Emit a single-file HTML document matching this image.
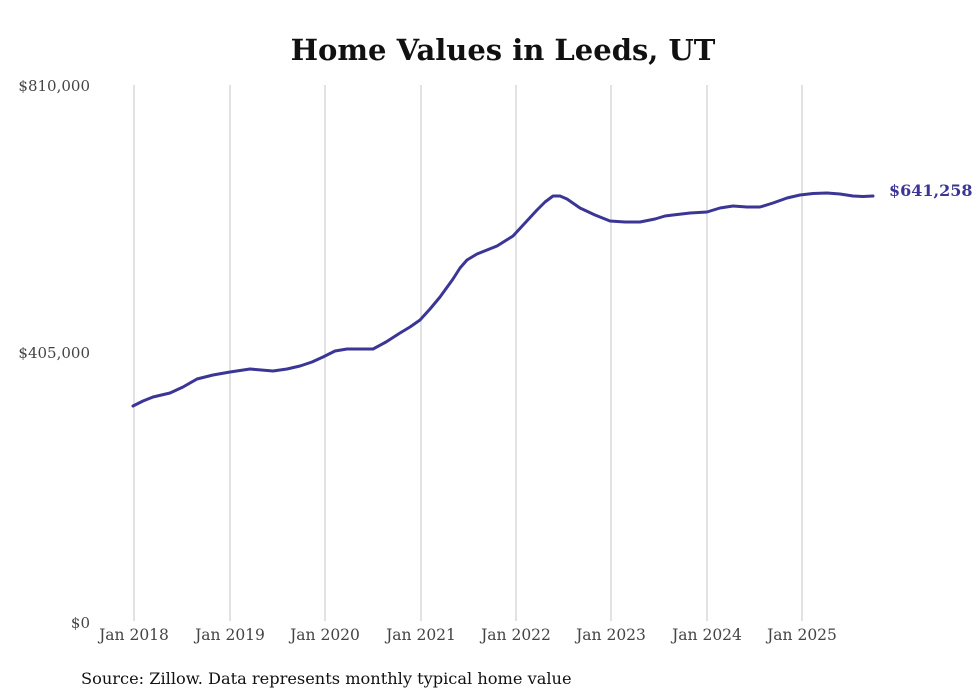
<!DOCTYPE html>
<html><head><meta charset="utf-8"><style>
body{margin:0;background:#fff;}
svg{display:block;}
</style></head><body>
<svg width="980" height="699" viewBox="0 0 980 699" xmlns="http://www.w3.org/2000/svg" font-family="'DejaVu Serif','Liberation Serif',serif">
<rect width="980" height="699" fill="#fff"/>
<text x="503" y="60" text-anchor="middle" font-size="29" font-weight="bold" fill="#111">Home Values in Leeds, UT</text>
<g stroke="#c4c4c4" stroke-width="1">
<line x1="134" y1="85" x2="134" y2="621"/>
<line x1="230" y1="85" x2="230" y2="621"/>
<line x1="325" y1="85" x2="325" y2="621"/>
<line x1="421" y1="85" x2="421" y2="621"/>
<line x1="516" y1="85" x2="516" y2="621"/>
<line x1="611" y1="85" x2="611" y2="621"/>
<line x1="707" y1="85" x2="707" y2="621"/>
<line x1="802" y1="85" x2="802" y2="621"/>
</g>
<g font-size="15" fill="#444">
<text x="90" y="91" text-anchor="end">$810,000</text>
<text x="90" y="358" text-anchor="end">$405,000</text>
<text x="90" y="628" text-anchor="end">$0</text>
</g>
<g font-size="15.5" fill="#444" text-anchor="middle">
<text x="134" y="640">Jan 2018</text>
<text x="230" y="640">Jan 2019</text>
<text x="325" y="640">Jan 2020</text>
<text x="421" y="640">Jan 2021</text>
<text x="516" y="640">Jan 2022</text>
<text x="611" y="640">Jan 2023</text>
<text x="707" y="640">Jan 2024</text>
<text x="802" y="640">Jan 2025</text>
</g>
<polyline fill="none" stroke="#3b3696" stroke-width="3" stroke-linejoin="round" stroke-linecap="round"
points="133,406 143,401 153,397 170,393 183,387 197,379 213,375 230,372 250,369 273,371 287,369 300,366 312,362 323,357 335,351 347,349 360,349 373,349 386,342 400,333 410,327 420,320 430,309 440,297 453,279 460,268 467,260 477,254 487,250 497,246 505,241 513,236 525,223 537,210 545,202 553,196 560,196 567,199 580,208 595,215 610,221 625,222 640,222 655,219 665,216 673,215 690,213 707,212 720,208 733,206 747,207 760,207 773,203 787,198 800,195 813,193.5 827,193 840,194 853,196 863,196.5 873,196"/>
<text x="889" y="196" font-size="16" font-weight="bold" fill="#3b3696">$641,258</text>
<text x="81" y="684" font-size="16.2" fill="#111">Source: Zillow. Data represents monthly typical home value</text>
</svg>
</body></html>
